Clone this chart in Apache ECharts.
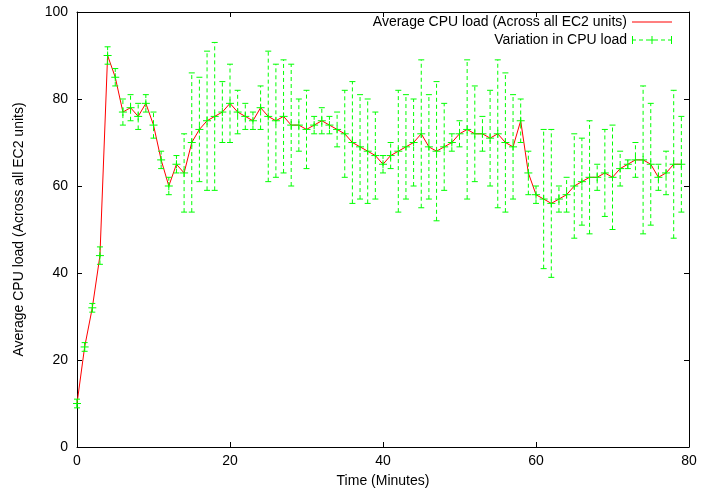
<!DOCTYPE html>
<html>
<head>
<meta charset="utf-8">
<script src="https://cdn.jsdelivr.net/npm/echarts@6/dist/echarts.min.js"></script>
<style>html,body{margin:0;padding:0;background:#fff;}#chart{width:717px;height:493px;}</style>
</head>
<body>
<div id="chart"></div>
<script>
const minutes = [0,1,2,3,4,5,6,7,8,9,10,11,12,13,14,15,16,17,18,19,20,21,22,23,24,25,26,27,28,29,30,31,32,33,34,35,36,37,38,39,40,41,42,43,44,45,46,47,48,49,50,51,52,53,54,55,56,57,58,59,60,61,62,63,64,65,66,67,68,69,70,71,72,73,74,75,76,77,78,79];
const cpuLoad = [10,23,32,44,90,85,77,78,76,79,74,66,60,65,63,70,73,75,76,77,79,77,76,75,78,76,75,76,74,74,73,74,75,74,73,72,70,69,68,67,65,67,68,69,70,72,69,68,69,70,72,73,72,72,71,72,70,69,75,63,58,57,56,57,58,60,61,62,62,63,62,64,65,66,66,65,62,63,65,65];
const lowBound = [9,22,31,42,88,83,74,75,73,77,71,64,58,63,54,54,61,59,59,70,70,72,73,73,73,61,62,63,60,68,64,72,72,72,69,62,56,57,56,57,63,64,54,57,60,55,57,52,59,68,69,57,61,68,60,55,54,57,70,58,56,41,39,54,54,48,51,49,59,53,50,60,64,62,49,51,59,58,48,54];
const highBound = [11,24,33,46,92,87,80,81,79,81,77,68,62,67,72,86,85,91,93,84,88,82,79,77,83,91,88,89,88,80,82,76,78,76,77,82,84,81,80,77,67,70,82,81,80,89,81,84,79,72,75,89,83,76,82,89,86,81,80,68,60,73,73,60,62,72,71,75,65,73,74,68,66,70,83,79,65,68,82,76];
const xTicks = [0,20,40,60,80];
const yTicks = [0,20,40,60,80,100];
const lineName = 'Average CPU load (Across all EC2 units)';
const errName = 'Variation in CPU load';

const chart = echarts.init(document.getElementById('chart'));
const font = 'Liberation Sans, Helvetica, Arial, sans-serif';
const green = '#00ff00';

function baseAxis(extra) {
  return Object.assign({
    type: 'value',
    axisLine: {show: true, onZero: false, lineStyle: {color: '#000', width: 1}},
    axisTick: {show: true, inside: true, length: 5, lineStyle: {color: '#000', width: 1}},
    splitLine: {show: false},
    axisLabel: {color: '#000', fontSize: 14, fontFamily: font}
  }, extra);
}

const errPath = 'path://M0,0h1v8h-1z M39,0h1v8h-1z M0,3.5h4v1h-4z M7,3.5h4v1h-4z M14,3.5h4v1h-4z M22,3.5h4v1h-4z M29,3.5h4v1h-4z M36,3.5h4v1h-4z M19.5,0h1v8h-1z M16,3.5h8v1h-8z';

chart.setOption({
  animation: false,
  backgroundColor: '#fff',
  textStyle: {fontFamily: font},
  grid: {left: 77, right: 28, top: 12, bottom: 45},
  legend: {
    orient: 'vertical',
    right: 45,
    top: 15,
    padding: 0,
    align: 'right',
    itemWidth: 40,
    itemHeight: 8,
    itemGap: 4,
    selectedMode: false,
    textStyle: {color: '#000', fontSize: 14, fontFamily: font},
    data: [
      {name: lineName, icon: 'path://M0,3.5h40v1h-40z'},
      {name: errName, icon: errPath}
    ]
  },
  xAxis: [
    baseAxis({min: 0, max: 80, interval: 20, position: 'bottom',
      name: 'Time (Minutes)', nameLocation: 'middle', nameGap: 27,
      nameTextStyle: {color: '#000', fontSize: 14, fontFamily: font},
      axisLabel: {color: '#000', fontSize: 14, fontFamily: font, margin: 7, formatter: v => xTicks.includes(v) ? String(v) : ''}}),
    baseAxis({min: 0, max: 80, interval: 20, position: 'top', axisLabel: {show: false}})
  ],
  yAxis: [
    baseAxis({min: 0, max: 100, interval: 20, position: 'left',
      name: 'Average CPU load (Across all EC2 units)', nameLocation: 'middle', nameGap: 51,
      nameTextStyle: {color: '#000', fontSize: 14, fontFamily: font},
      axisLabel: {color: '#000', fontSize: 14, fontFamily: font, margin: 9, formatter: v => yTicks.includes(v) ? String(v) : ''}}),
    baseAxis({min: 0, max: 100, interval: 20, position: 'right', axisLabel: {show: false}})
  ],
  series: [
    {
      name: lineName,
      type: 'line',
      data: minutes.map((m, i) => [m, cpuLoad[i]]),
      showSymbol: false,
      symbol: 'none',
      lineStyle: {color: '#ff0000', width: 1},
      itemStyle: {color: '#ff0000'},
      z: 2
    },
    {
      name: errName,
      type: 'custom',
      itemStyle: {color: green},
      z: 3,
      data: minutes.map((m, i) => [m, cpuLoad[i], lowBound[i], highBound[i]]),
      encode: {x: 0, y: 1},
      renderItem: function (params, api) {
        const x = api.value(0);
        const pc = api.coord([x, api.value(1)]);
        const pl = api.coord([x, api.value(2)]);
        const ph = api.coord([x, api.value(3)]);
        const cap = 3, m = 4;
        const st = {stroke: green, lineWidth: 1, fill: null};
        return {
          type: 'group',
          children: [
            {type: 'line', shape: {x1: pl[0], y1: pl[1], x2: ph[0], y2: ph[1]}, style: {stroke: green, lineWidth: 1, lineDash: [4, 3], fill: null}},
            {type: 'line', shape: {x1: pl[0] - cap, y1: pl[1], x2: pl[0] + cap, y2: pl[1]}, style: st},
            {type: 'line', shape: {x1: ph[0] - cap, y1: ph[1], x2: ph[0] + cap, y2: ph[1]}, style: st},
            {type: 'line', shape: {x1: pc[0] - m, y1: pc[1], x2: pc[0] + m, y2: pc[1]}, style: st},
            {type: 'line', shape: {x1: pc[0], y1: pc[1] - m, x2: pc[0], y2: pc[1] + m}, style: st}
          ]
        };
      }
    }
  ]
});
</script>
</body>
</html>
